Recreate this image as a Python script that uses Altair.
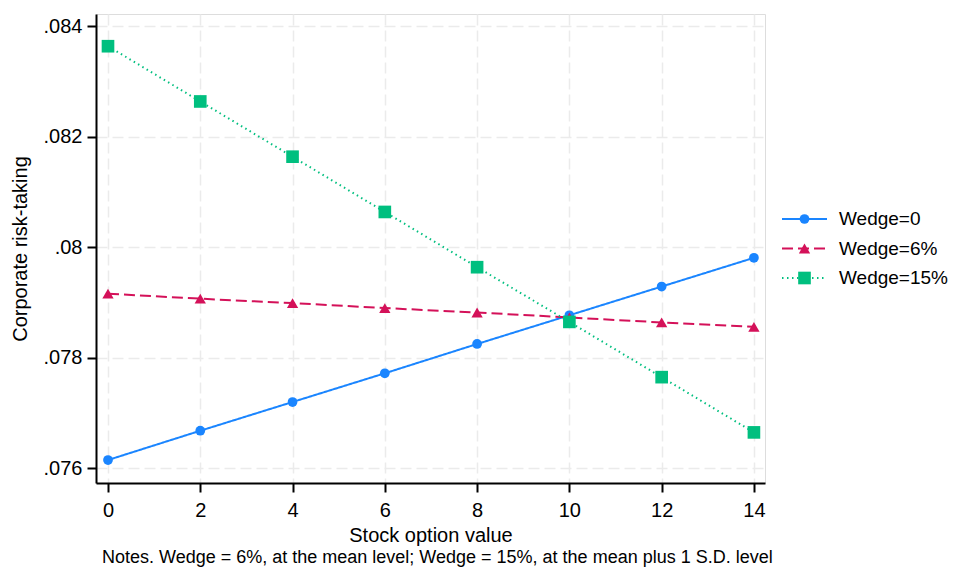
import altair as alt
import pandas as pd

# ---- data ----
stock_option = [0, 2, 4, 6, 8, 10, 12, 14]
wedge_0 = [0.07615, 0.07668, 0.07720, 0.07772, 0.07825, 0.07877, 0.07929, 0.07981]
wedge_6 = [0.07916, 0.07907, 0.07899, 0.07890, 0.07882, 0.07873, 0.07864, 0.07856]
wedge_15 = [0.08364, 0.08264, 0.08164, 0.08064, 0.07964, 0.07865, 0.07765, 0.07665]
series = ["Wedge=0", "Wedge=6%", "Wedge=15%"]
colors = ["#1a85ff", "#d41159", "#00bf7f"]
dashes = [[1, 0], [11, 5], [1.5, 3.5]]
widths = [2, 2, 1.6]
line_opac = [1, 1, 0.55]
shapes = ["circle", "triangle-up", "square"]
sizes = [95, 160, 100]
x_ticks = [0, 2, 4, 6, 8, 10, 12, 14]
y_ticks = [0.076, 0.078, 0.080, 0.082, 0.084]
notes = "Notes. Wedge = 6%, at the mean level;  Wedge = 15%, at the mean plus 1 S.D. level"

FONT = "Liberation Sans"

rows = []
for name, vals in zip(series, [wedge_0, wedge_6, wedge_15]):
    for x, y in zip(stock_option, vals):
        rows.append({"x": x, "y": y, "series": name})
df = pd.DataFrame(rows)
legend_df = pd.DataFrame({"series": series})

W, H = 669, 469

xscale = alt.Scale(domain=[-0.26, 14.24], nice=False, zero=False)
yscale = alt.Scale(domain=[0.075734, 0.084223], nice=False, zero=False)

color_enc = alt.Color("series:N", scale=alt.Scale(domain=series, range=colors), legend=None)
dash_enc = alt.StrokeDash("series:N", scale=alt.Scale(domain=series, range=dashes), legend=None)
width_enc = alt.StrokeWidth("series:N", scale=alt.Scale(domain=series, range=widths), legend=None)
opac_enc = alt.Opacity("series:N", scale=alt.Scale(domain=series, range=line_opac), legend=None)
shape_enc = alt.Shape("series:N", scale=alt.Scale(domain=series, range=shapes), legend=None)
size_enc = alt.Size("series:N", scale=alt.Scale(domain=series, range=sizes), legend=None)

grid_common = dict(grid=True, gridColor="#ebebeb", gridDash=[11, 5], gridWidth=1.5,
                   domainColor="black", domainWidth=2, tickColor="black", tickWidth=2,
                   tickSize=9, labelFont=FONT, labelFontSize=20, labelColor="black",
                   titleFont=FONT, titleFontSize=20, titleFontWeight="normal",
                   titleColor="black")

x_axis = alt.Axis(values=x_ticks, labelPadding=8, title="Stock option value",
                  titleY=58, titleBaseline="alphabetic", **grid_common)
y_axis = alt.Axis(values=y_ticks, labelPadding=5,
                  labelExpr="replace(format(datum.value, '.3~f'), /^0/, '')",
                  title="Corporate risk-taking", titleX=-70, titleY=H / 2,
                  titleAngle=270, titleBaseline="alphabetic", titleAlign="center",
                  **grid_common)

lines = alt.Chart(df).mark_line().encode(
    x=alt.X("x:Q", scale=xscale, axis=x_axis),
    y=alt.Y("y:Q", scale=yscale, axis=y_axis),
    color=color_enc, strokeDash=dash_enc, strokeWidth=width_enc, opacity=opac_enc,
    detail="series:N",
)
points = alt.Chart(df).mark_point(filled=True, opacity=1).encode(
    x=alt.X("x:Q", scale=xscale),
    y=alt.Y("y:Q", scale=yscale),
    color=color_enc, shape=shape_enc, size=size_enc,
)
main = alt.layer(lines, points)

leg_y = alt.Y("series:N", scale=alt.Scale(type="point", domain=series, range=[205, 264], padding=0), axis=None)
leg_rule = alt.Chart(legend_df).mark_rule().encode(
    x=alt.value(686), x2=alt.value(731), y=leg_y,
    color=color_enc, strokeDash=dash_enc, strokeWidth=width_enc, opacity=opac_enc,
)
leg_pt = alt.Chart(legend_df).mark_point(filled=True, opacity=1).encode(
    x=alt.value(708.5), y=leg_y, color=color_enc, shape=shape_enc, size=size_enc,
)
leg_txt = alt.Chart(legend_df).mark_text(align="left", baseline="middle", font=FONT,
                                         fontSize=19, color="black").encode(
    x=alt.value(743), y=leg_y, text="series:N",
)
legend = alt.layer(leg_rule, leg_pt, leg_txt)

chart = alt.layer(main, legend).resolve_scale(y="independent").properties(
    width=W, height=H,
    autosize=alt.AutoSizeParams(type="none"),
    padding={"left": 88, "top": 6, "right": 184, "bottom": 84},
    title=alt.TitleParams(text=notes, orient="bottom", anchor="start", frame="group",
                          offset=4, dx=6, font=FONT, fontSize=18, fontWeight="normal",
                          color="black"),
).configure_view(strokeWidth=0).configure(background="white")

chart.save("out.html", embed_options={"renderer": "svg", "actions": False})
